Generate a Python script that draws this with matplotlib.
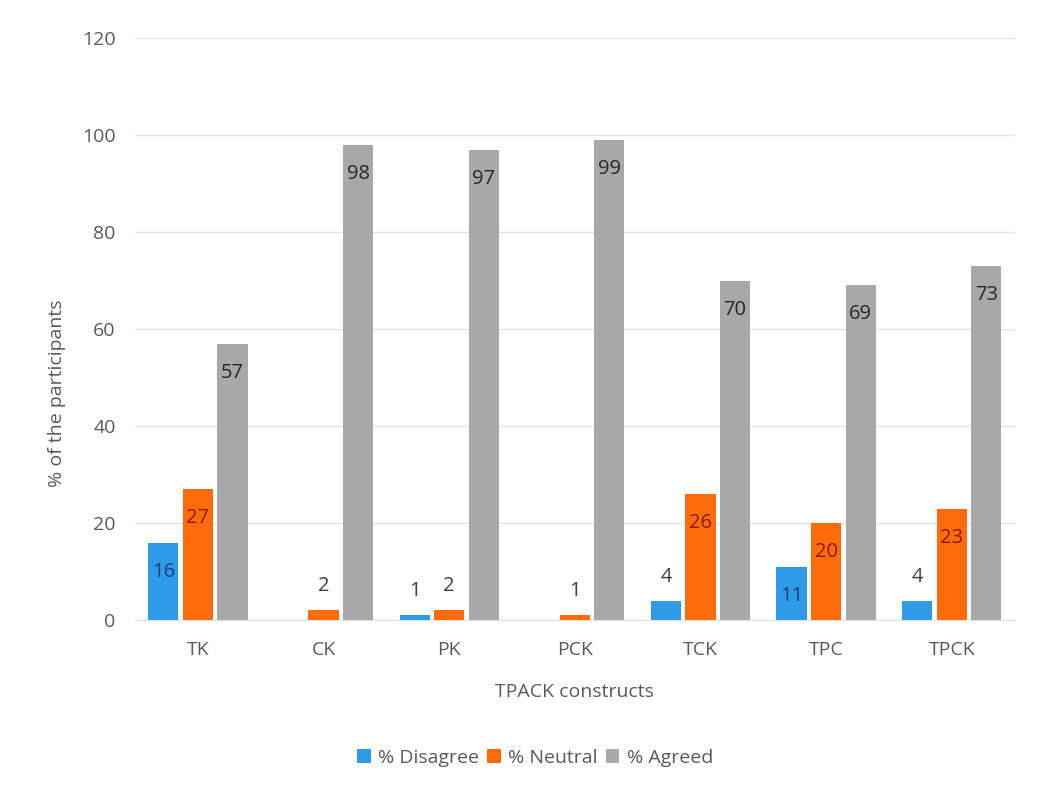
import numpy as np
import matplotlib
matplotlib.use('Agg')
import matplotlib.pyplot as plt

plt.rcParams['font.family'] = ['Open Sans', 'DejaVu Sans']

## data ##
constructs = ['TK', 'CK', 'PK', 'PCK', 'TCK', 'TPC', 'TPCK']
disagree = [16, 0, 1, 0, 4, 11, 4]
neutral = [27, 2, 2, 1, 26, 20, 23]
agreed = [57, 98, 97, 99, 70, 69, 73]
series_names = ['% Disagree', '% Neutral', '% Agreed']

colors = ['#2D9BE8', '#FF6A0A', '#A8A8A8']
label_colors = ['#1F3C88', '#8B1A00', '#262626']
text_gray = '#595959'

fig = plt.figure(figsize=(10.47, 7.9), dpi=100)
ax = fig.add_axes([0.129, 0.215, 0.84, 0.737])

x = np.arange(len(constructs))
w = 0.24
gap = 0.035
offsets = [-(w + gap), 0, w + gap]

for vals, off, col, lcol, name in zip([disagree, neutral, agreed], offsets, colors, label_colors, series_names):
    bars = ax.bar(x + off, vals, width=w, color=col, label=name, zorder=2)
    for b, v in zip(bars, vals):
        if v == 0 and col == colors[0]:
            continue
        cx = b.get_x() + b.get_width() / 2
        if v >= 10:
            ax.annotate(str(v), (cx, v), xytext=(0, -29), textcoords='offset pixels',
                        ha='center', va='center', fontsize=14.5, color=lcol, zorder=3)
        else:
            ax.annotate(str(v), (cx, v), xytext=(0, 14), textcoords='offset pixels',
                        ha='center', va='bottom', fontsize=14.5, color='#404040', zorder=3)

ax.set_ylim(0, 120)
ax.set_yticks(range(0, 121, 20))
ax.set_xlim(-0.5, len(constructs) - 0.5)
ax.set_xticks(x)
ax.set_xticklabels(constructs)
ax.grid(axis='y', color='#E3E3E3', linewidth=1, zorder=0)
for s in ['top', 'right', 'left']:
    ax.spines[s].set_visible(False)
ax.spines['bottom'].set_color('#E3E3E3')
ax.tick_params(length=0, labelsize=14, colors=text_gray)
ax.tick_params(axis='x', pad=15)
ax.tick_params(axis='y', pad=14)

ax.set_xlabel('TPACK constructs', fontsize=14, color=text_gray)
ax.set_ylabel('% of the participants', fontsize=14, color=text_gray)
ax.xaxis.set_label_coords(0.5, -0.108)
ax.yaxis.set_label_coords(-0.078, 0.39)

ax.legend(loc='center', bbox_to_anchor=(0.455, -0.236), ncol=3, frameon=False,
          fontsize=14, labelcolor=text_gray, handlelength=0.7, handleheight=0.7,
          handletextpad=0.4, columnspacing=0.4)

fig.savefig('out.png', dpi=100)
